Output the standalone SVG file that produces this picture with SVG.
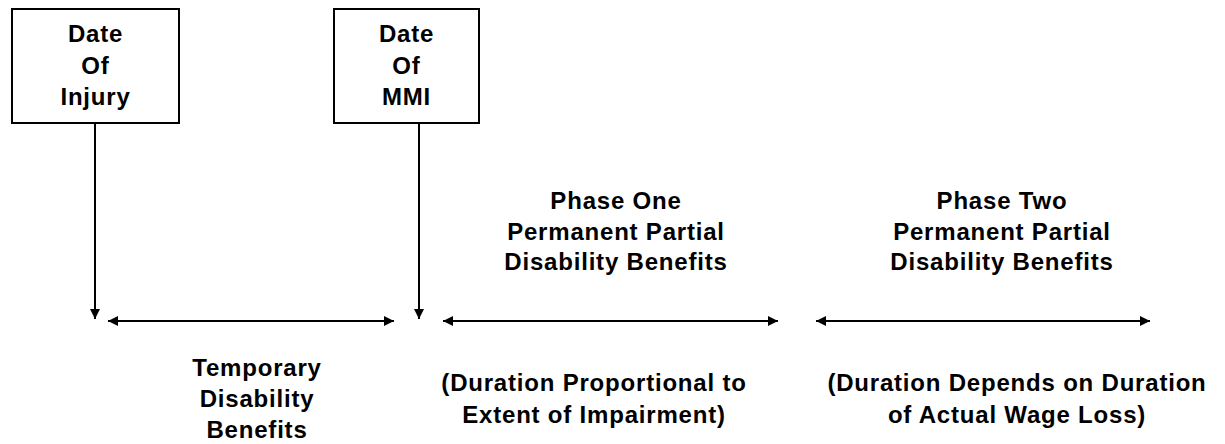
<svg xmlns="http://www.w3.org/2000/svg" width="1225" height="444" viewBox="0 0 1225 444">
<style>
.box{fill:#fff;stroke:#000;stroke-width:2}
.t{font-family:"Liberation Sans",Arial,sans-serif;font-weight:bold;font-size:24px;fill:#000;text-anchor:middle;letter-spacing:0.8px}
.ln{stroke:#000;stroke-width:2;fill:none}
</style>
<defs>
<marker id="ah" viewBox="0 0 10 10" refX="10" refY="5" markerWidth="10" markerHeight="10" markerUnits="userSpaceOnUse" orient="auto-start-reverse">
<path d="M0,0 L10,5 L0,10 z" fill="#000"/>
</marker>
</defs>
<rect width="1225" height="444" fill="#fff"/>
<g id="node-injury">
<rect class="box" x="12" y="9" width="167" height="114"/>
<text class="t" x="95.5" y="42">Date</text>
<text class="t" x="95.5" y="73.5">Of</text>
<text class="t" x="95.5" y="104.5">Injury</text>
</g>
<g id="node-mmi">
<rect class="box" x="334" y="9" width="145" height="114"/>
<text class="t" x="406.5" y="42">Date</text>
<text class="t" x="406.5" y="73.5">Of</text>
<text class="t" x="406.5" y="104.5">MMI</text>
</g>
<g id="node-phase1">
<text class="t" x="616" y="209">Phase One</text>
<text class="t" x="616" y="239.5">Permanent Partial</text>
<text class="t" x="616" y="270">Disability Benefits</text>
</g>
<g id="node-phase2">
<text class="t" x="1002" y="209">Phase Two</text>
<text class="t" x="1002" y="239.5">Permanent Partial</text>
<text class="t" x="1002" y="270">Disability Benefits</text>
</g>
<g id="node-temporary">
<text class="t" x="257" y="376">Temporary</text>
<text class="t" x="257" y="407">Disability</text>
<text class="t" x="257" y="438">Benefits</text>
</g>
<g id="node-duration1">
<text class="t" x="594" y="391">(Duration Proportional to</text>
<text class="t" x="594" y="423">Extent of Impairment)</text>
</g>
<g id="node-duration2">
<text class="t" x="1017" y="391">(Duration Depends on Duration</text>
<text class="t" x="1017" y="423">of Actual Wage Loss)</text>
</g>
<g id="connectors">
<line class="ln" x1="95" y1="123" x2="95" y2="319" marker-end="url(#ah)"/>
<line class="ln" x1="419" y1="123" x2="419" y2="319" marker-end="url(#ah)"/>
<line class="ln" x1="108" y1="321" x2="394" y2="321" marker-start="url(#ah)" marker-end="url(#ah)"/>
<line class="ln" x1="443" y1="321" x2="778" y2="321" marker-start="url(#ah)" marker-end="url(#ah)"/>
<line class="ln" x1="816" y1="321" x2="1150" y2="321" marker-start="url(#ah)" marker-end="url(#ah)"/>
</g>
</svg>
